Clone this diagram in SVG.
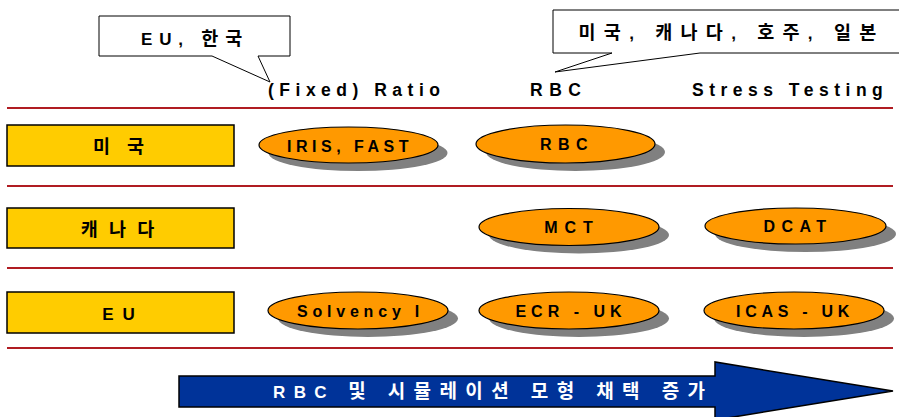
<svg xmlns="http://www.w3.org/2000/svg" width="899" height="417" viewBox="0 0 899 417">
<style>
.bg{fill:#ffffff}
.rule{stroke:#b01c22;stroke-width:2}
.box{fill:#ffcc00;stroke:#000;stroke-width:1.5}
.ell{fill:#ff9900;stroke:#000;stroke-width:1.2}
.shadow{fill:#808080}
.callout{fill:#fff;stroke:#000;stroke-width:1}
.t{font-family:"Liberation Sans","Noto Sans CJK KR",Arial,sans-serif;font-weight:bold;fill:#000;text-anchor:middle}
.hdr{font-size:17.5px;letter-spacing:5.5px;text-anchor:start}
.et{font-size:16px}
.kt{font-size:17px}
.ko{font-size:18.5px}
.arrowtext{fill:#fff;font-size:17px;letter-spacing:8.4px;text-anchor:start}
</style>
<rect class="bg" x="0" y="0" width="899" height="417"/>

<g id="rules">
<line class="rule" x1="7" y1="108" x2="893" y2="108"/>
<line class="rule" x1="7" y1="186" x2="893" y2="186"/>
<line class="rule" x1="7" y1="268" x2="893" y2="268"/>
<line class="rule" x1="7" y1="348" x2="893" y2="348"/>
</g>

<g id="callout-eu-korea">
<path class="callout" d="M99,16 H290 V56 H258 L270,82 L212,56 H99 Z"/>
<text class="t kt" x="195" y="45" style="letter-spacing:6.8px">EU, <tspan class="ko">한국</tspan></text>
</g>
<g id="callout-others">
<path class="callout" d="M553,10 H905 V53 H700 L555,72 L612,53 H553 Z"/>
<text class="t kt" x="731.5" y="39" style="letter-spacing:8.3px"><tspan class="ko">미국</tspan>, <tspan class="ko">캐나다</tspan>, <tspan class="ko">호주</tspan>, <tspan class="ko">일본</tspan></text>
</g>

<g id="headers">
<text class="t hdr" x="268" y="96">(Fixed) Ratio</text>
<text class="t hdr" x="530" y="96" style="letter-spacing:6.5px">RBC</text>
<text class="t hdr" x="692" y="96" style="letter-spacing:5.5px">Stress Testing</text>
</g>

<g id="row-us">
<rect class="box" x="7" y="125" width="227" height="41"/>
<text class="t ko" x="121.5" y="153" style="letter-spacing:6px">미 국</text>
</g>
<g id="row-canada">
<rect class="box" x="7" y="208" width="227" height="40"/>
<text class="t ko" x="119" y="236" style="letter-spacing:3px">캐 나 다</text>
</g>
<g id="row-eu">
<rect class="box" x="7" y="292" width="227" height="41"/>
<text class="t kt" x="123" y="320" style="letter-spacing:9px">EU</text>
</g>

<g id="node-iris-fast">
<ellipse class="shadow" cx="358" cy="153" rx="89.5" ry="18"/>
<ellipse class="ell" cx="348.5" cy="145" rx="89.5" ry="18"/>
<text class="t et" x="350" y="152" style="letter-spacing:4.5px">IRIS, FAST</text>
</g>
<g id="node-rbc">
<ellipse class="shadow" cx="575.5" cy="152" rx="89.5" ry="19"/>
<ellipse class="ell" cx="565.5" cy="144" rx="89.5" ry="19"/>
<text class="t et" x="567" y="149.5" style="letter-spacing:6.5px">RBC</text>
</g>
<g id="node-mct">
<ellipse class="shadow" cx="579" cy="235" rx="90" ry="18.5"/>
<ellipse class="ell" cx="569" cy="227" rx="90" ry="18.5"/>
<text class="t et" x="572" y="233" style="letter-spacing:7px">MCT</text>
</g>
<g id="node-dcat">
<ellipse class="shadow" cx="805.5" cy="234" rx="90.5" ry="18"/>
<ellipse class="ell" cx="795.5" cy="226" rx="90.5" ry="18"/>
<text class="t et" x="798" y="232" style="letter-spacing:6.5px">DCAT</text>
</g>
<g id="node-solvency">
<ellipse class="shadow" cx="368" cy="318.5" rx="90" ry="18.5"/>
<ellipse class="ell" cx="358" cy="310.5" rx="90" ry="18.5"/>
<text class="t et" x="360.5" y="317" style="letter-spacing:4.8px">Solvency I</text>
</g>
<g id="node-ecr-uk">
<ellipse class="shadow" cx="579" cy="318.5" rx="90" ry="18.5"/>
<ellipse class="ell" cx="569" cy="310.5" rx="90" ry="18.5"/>
<text class="t et" x="571" y="317" style="letter-spacing:5px">ECR - UK</text>
</g>
<g id="node-icas-uk">
<ellipse class="shadow" cx="804" cy="318.5" rx="90" ry="18.5"/>
<ellipse class="ell" cx="794" cy="310.5" rx="90" ry="18.5"/>
<text class="t et" x="795" y="317" style="letter-spacing:4.7px">ICAS - UK</text>
</g>

<g id="trend-arrow">
<path d="M179,376 H715 V362 L893,391 L715,420 V407 H179 Z" fill="#003399" stroke="#000" stroke-width="1.5"/>
<text class="t arrowtext" x="273" y="398">RBC <tspan style="font-size:19px">및 시뮬레이션 모형 채택 증가</tspan></text>
</g>
</svg>
